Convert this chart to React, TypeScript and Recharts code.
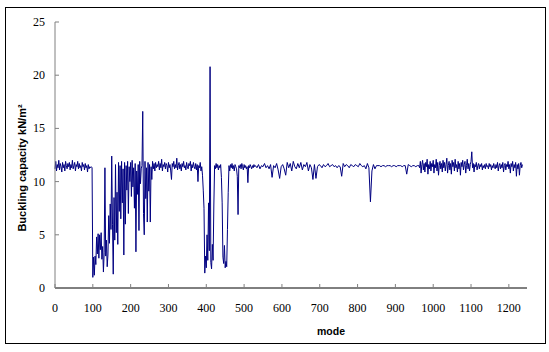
import { LineChart, Line, XAxis, YAxis } from 'recharts';

const earlyModes = [
  11.2, 11.9, 11.0, 11.6, 11.3, 12.0, 11.1, 11.7, 11.4, 10.9,
  11.8, 11.3, 11.6, 11.0, 11.9, 11.5, 11.2, 11.7, 11.4, 11.8,
  11.1, 11.6, 11.3, 12.0, 11.2, 11.5, 11.8, 11.0, 11.6, 11.4,
  11.9, 11.2, 11.7, 11.3, 11.5, 11.0, 11.8, 11.4, 11.6, 11.1,
  11.7, 11.3, 11.5, 10.9, 11.6, 11.2, 11.4, 11.3, 11.4,
]; // 0..96 step 2

const unstableA = [
  11.3,
  1.0, 2.9, 1.2, 3.0, 2.2, 4.8, 3.2, 5.1, 2.8, 5.0,
  3.6, 5.2, 2.7, 3.9, 1.5, 3.3, 11.3, 3.0, 4.5, 2.0,
  3.1, 6.8, 4.2, 7.9, 5.5, 12.4, 6.0, 1.3, 8.5, 4.5,
  11.6, 5.2, 9.0, 4.1, 11.8, 7.2, 11.5, 6.5, 11.9, 8.0,
  11.2, 3.1, 11.8, 6.0, 11.5, 9.2, 11.9, 7.0, 11.4, 10.0,
  11.8, 8.6, 12.0, 9.5, 11.3, 7.5, 11.7, 3.4, 11.0, 8.8,
  11.6, 5.4, 11.9, 9.8, 11.2, 11.5, 16.6, 7.0, 5.0, 11.9,
  8.4, 11.3, 6.2, 11.8, 9.1, 11.6, 6.2, 11.4, 10.2, 11.9,
  11.2, 11.7, 11.0, 11.8, 11.3, 11.6,
]; // 98..270 step 2

const midModes = [
  11.4, 11.9, 11.1, 11.7, 11.3, 12.1, 11.0, 11.6, 11.4, 11.8,
  11.2, 11.7, 11.5, 10.9, 11.8, 11.3, 11.6, 11.0, 10.2, 11.7,
  11.4, 11.9, 11.2, 11.6, 11.3, 12.2, 11.1, 11.5, 11.8, 11.2,
  11.6, 11.0, 11.7, 11.4, 11.9, 11.3, 11.5, 11.1, 11.8, 11.4,
  11.2, 11.7, 11.5, 11.9, 11.0, 11.6, 11.3, 11.8, 11.4, 11.2,
  11.7, 11.1, 11.6, 10.0, 11.5, 11.3, 11.8, 11.0, 11.4, 10.6,
]; // 272..390 step 2

const unstableB = [
  9.2, 7.5, 1.4, 3.0, 1.9, 5.0, 2.6, 8.0, 3.5, 20.8,
  2.4, 1.8, 4.1, 2.6, 7.8, 11.5, 11.2, 11.7, 11.3, 11.6,
  11.1, 11.5, 11.3, 11.6, 10.4, 8.0, 2.9, 2.3, 4.0, 1.9,
  2.5, 2.0, 5.5, 9.0, 11.5, 11.0, 11.6, 11.3, 11.7, 11.2,
  11.5, 11.0, 11.6, 11.4, 11.2, 10.5, 6.9, 11.5, 11.3, 11.6,
  11.2, 11.7, 11.4, 11.1, 11.6, 11.3, 11.5, 11.2, 11.4, 9.9,
  11.5, 11.3, 11.6, 11.4, 11.2, 11.5, 11.3, 11.6, 11.4, 11.5,
]; // 392..530 step 2

const calmModes = [
  11.3, 11.6, 11.2, 11.5, 11.4, 11.7, 11.3, 11.5, 11.2, 11.6,
  10.4, 11.5, 11.3, 11.7, 11.1, 10.3, 11.4, 11.6, 11.2, 10.6,
  11.8, 11.3, 11.7, 11.0, 11.9, 11.4, 11.2, 11.7, 11.3, 11.8,
  11.1, 11.6, 11.4, 11.8, 11.0, 11.6, 11.3, 10.2, 11.6, 10.3,
  11.4, 11.6, 11.5, 11.3, 11.6, 11.4, 11.5, 11.7, 11.4, 11.5,
  11.6, 11.4, 11.5, 11.3, 11.5, 11.4, 10.5, 11.7, 11.4, 11.6,
  11.5, 11.3, 11.6, 11.5, 11.4, 11.6, 11.5, 11.4, 11.7, 11.5,
  11.4, 11.5, 11.2, 11.7, 11.3, 8.1, 11.0, 11.6, 11.2, 11.5,
  11.5, 11.5, 11.4, 11.5, 11.5, 11.4, 11.5, 11.5, 11.5, 11.4,
  11.5, 11.5, 11.4, 11.5, 11.5, 11.5, 11.4, 11.5, 11.5, 10.7,
  11.6, 11.5, 11.4, 11.5, 11.5, 11.4, 11.5,
]; // 534..958 step 4

const lateModes = [
  11.5, 11.3, 11.9, 10.8, 11.6, 12.0, 11.1, 11.7, 10.9, 11.8,
  11.4, 12.1, 10.7, 11.6, 11.2, 11.9, 11.0, 11.7, 11.4, 12.0,
  10.8, 11.6, 11.3, 12.1, 11.0, 11.8, 10.6, 11.5, 11.9, 11.2,
  11.7, 10.9, 12.0, 11.3, 11.8, 11.0, 11.6, 12.2, 10.8, 11.5,
  11.9, 11.1, 11.7, 10.7, 12.0, 11.4, 11.8, 11.0, 12.1, 11.3,
  11.6, 10.9, 11.9, 11.2, 11.7, 10.6, 11.8, 11.4, 12.0, 11.1,
  11.6, 11.9, 10.8, 11.5, 12.1, 11.2, 11.7, 11.0, 11.6, 11.9,
  12.8, 11.3, 11.7, 10.9, 11.6, 11.4, 11.8, 11.1, 11.5, 11.7,
  11.2, 11.6, 11.4, 11.7, 11.1, 11.5, 11.3, 11.6, 11.2, 11.7,
  11.4, 11.5, 11.2, 11.7, 11.4, 11.6, 11.1, 11.5, 11.3, 11.7,
  11.4, 11.2, 11.6, 11.3, 11.8, 11.0, 11.5, 11.7, 11.2, 11.6,
  11.3, 11.8, 10.9, 11.5, 11.7, 11.1, 11.6, 11.4, 11.9, 11.2,
  11.6, 10.8, 11.7, 11.4, 11.9, 11.0, 11.6, 11.3, 11.8, 10.5,
  11.6, 11.2, 11.7, 10.6, 11.5, 11.8, 11.3, 11.6,
]; // 962..1236 step 2

const stretches = [
  { start: 0, step: 2, values: earlyModes },
  { start: 98, step: 2, values: unstableA },
  { start: 272, step: 2, values: midModes },
  { start: 392, step: 2, values: unstableB },
  { start: 534, step: 4, values: calmModes },
  { start: 962, step: 2, values: lateModes },
];

const xTicks = [0, 100, 200, 300, 400, 500, 600, 700, 800, 900, 1000, 1100, 1200];
const yTicks = [0, 5, 10, 15, 20, 25];

const data = stretches.flatMap((s) => s.values.map((v, i) => ({ mode: s.start + i * s.step, capacity: v })));

const SERIF = "'Liberation Serif', 'Times New Roman', serif";
const SANS = "'Liberation Sans', Arial, sans-serif";

function XTick({ x, y, payload }: any) {
  return (
    <g>
      <line x1={x} y1={y} x2={x} y2={y - 4} stroke="#808080" />
      <text x={x} y={y + 20} textAnchor="middle" dominantBaseline="central" fontFamily={SERIF} fontSize={12} fill="#000">
        {payload.value}
      </text>
    </g>
  );
}

function YTick({ x, y, payload }: any) {
  return (
    <g>
      <line x1={x} y1={y} x2={x + 4} y2={y} stroke="#808080" />
      <text x={x - 10} y={y} textAnchor="end" dominantBaseline="central" fontFamily={SERIF} fontSize={12} fill="#000">
        {payload.value}
      </text>
    </g>
  );
}

export default function App() {
  return (
    <div style={{ position: 'absolute', left: 0, top: 0, width: 549, height: 352, background: '#fff' }}>
      <div style={{ position: 'absolute', left: 5, top: 7, width: 539, height: 335, border: '1px solid #000' }} />
      <LineChart width={549} height={352} data={data} margin={{ top: 22, right: 22, left: 15, bottom: 34 }}>
        <XAxis
          dataKey="mode"
          type="number"
          domain={[0, 1248]}
          ticks={xTicks}
          interval={0}
          height={30}
          tickSize={0}
          tickMargin={0}
          tickLine={false}
          tick={<XTick />}
          stroke="#000"
        />
        <YAxis
          type="number"
          domain={[0, 25]}
          ticks={yTicks}
          interval={0}
          width={40}
          tickSize={0}
          tickMargin={0}
          tickLine={false}
          tick={<YTick />}
          stroke="#808080"
        />
        <Line type="linear" dataKey="capacity" stroke="#000080" strokeWidth={1} dot={false} isAnimationActive={false} />
      </LineChart>
      <svg width={549} height={352} style={{ position: 'absolute', left: 0, top: 0, pointerEvents: 'none' }}>
        <text x={331} y={331} textAnchor="middle" dominantBaseline="central" fontFamily={SANS} fontWeight="bold" fontSize={10.5} fill="#000">
          mode
        </text>
        <text
          x={22}
          y={168}
          transform="rotate(-90 22 168)"
          textAnchor="middle"
          dominantBaseline="central"
          fontFamily={SANS}
          fontWeight="bold"
          fontSize={11}
          fill="#000"
        >
          Buckling capacity kN/m²
        </text>
      </svg>
    </div>
  );
}
